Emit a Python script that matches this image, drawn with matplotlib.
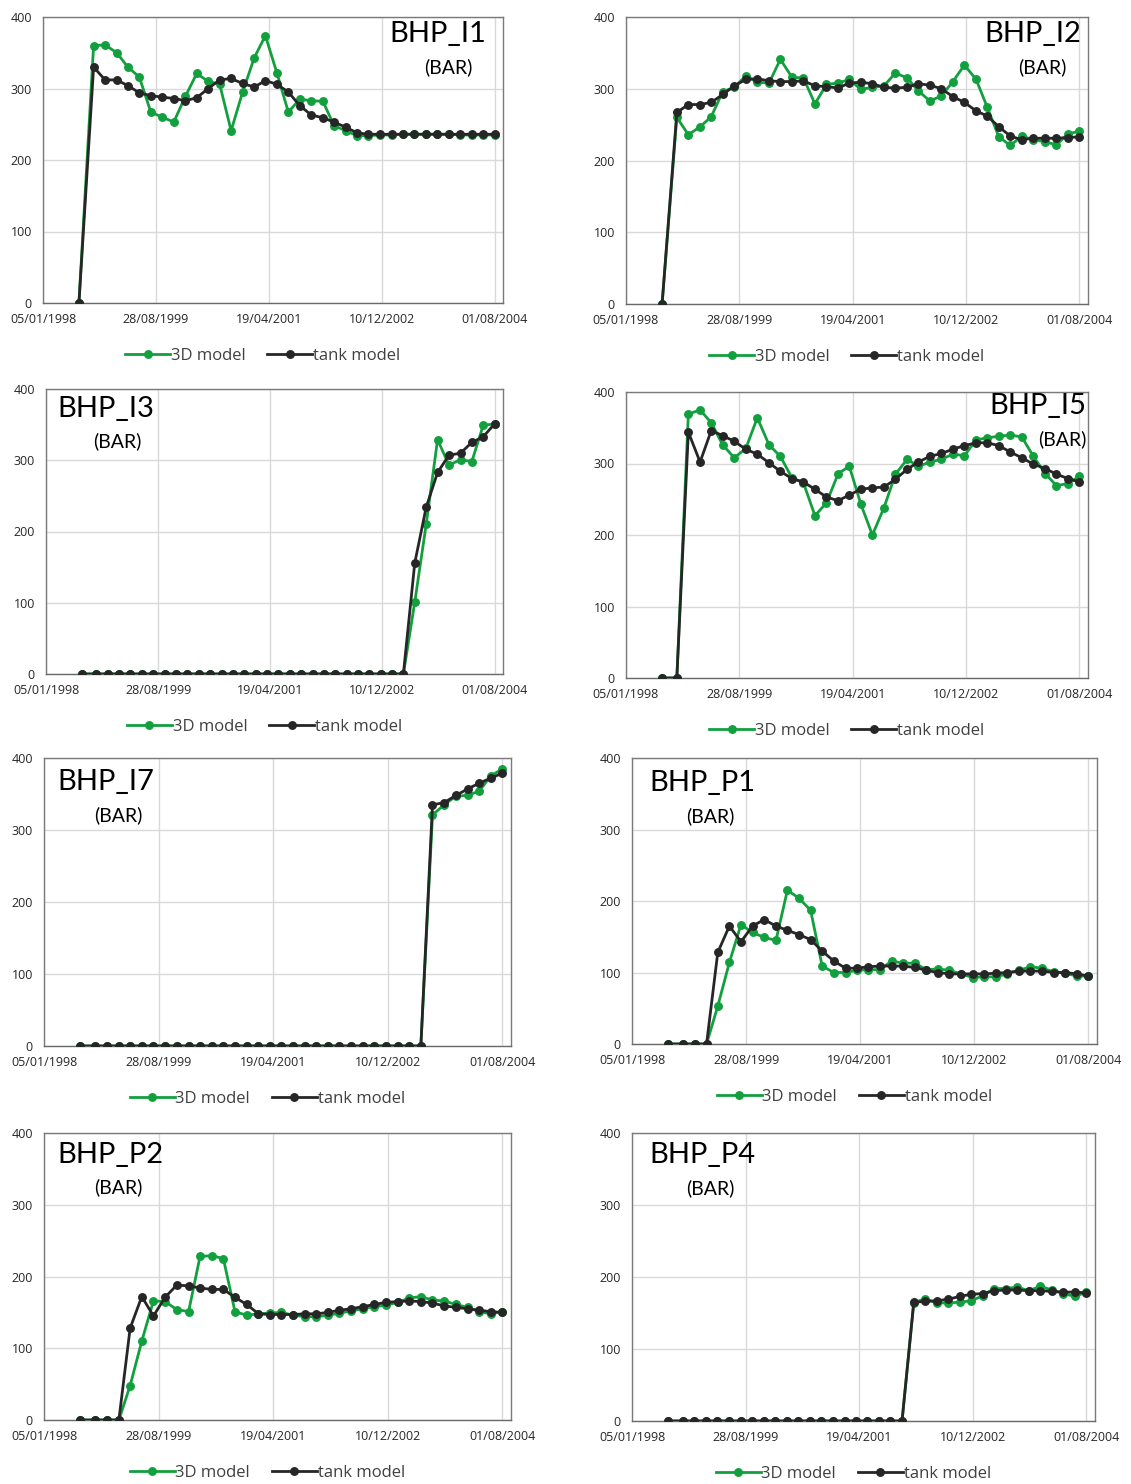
import matplotlib
matplotlib.use("Agg")
import matplotlib.pyplot as plt
import pandas as pd

plt.rcParams["font.family"] = ["Open Sans", "DejaVu Sans"]

# Sampling dates (first report, then every two months)
dates = ["1998-07-15",
         "1998-10-01", "1998-12-01",
         "1999-02-01", "1999-04-01", "1999-06-01", "1999-08-01", "1999-10-01", "1999-12-01",
         "2000-02-01", "2000-04-01", "2000-06-01", "2000-08-01", "2000-10-01", "2000-12-01",
         "2001-02-01", "2001-04-01", "2001-06-01", "2001-08-01", "2001-10-01", "2001-12-01",
         "2002-02-01", "2002-04-01", "2002-06-01", "2002-08-01", "2002-10-01", "2002-12-01",
         "2003-02-01", "2003-04-01", "2003-06-01", "2003-08-01", "2003-10-01", "2003-12-01",
         "2004-02-01", "2004-04-01", "2004-06-01", "2004-08-01"]

tick_dates = ["1998-01-05", "1999-08-28", "2001-04-19", "2002-12-10", "2004-08-01"]
tick_labels = ["05/01/1998", "28/08/1999", "19/04/2001", "10/12/2002", "01/08/2004"]
x_range = ["1998-01-05", "2004-09-15"]
y_ticks = [0, 100, 200, 300, 400]

series_names = ["3D model", "tank model"]
well_names = ["BHP_I1", "BHP_I2", "BHP_I3", "BHP_I5", "BHP_I7", "BHP_P1", "BHP_P2", "BHP_P4"]

# Bottom-hole pressure, bar
i1_3d = [0, 360, 361, 350, 330, 316, 267, 260, 253, 289, 321, 310, 306, 241, 295, 343, 374, 322,
         267, 285, 283, 282, 248, 241, 234, 234, 235, 235, 236, 236, 236, 236, 236, 235, 235, 235, 235]
i1_tank = [0, 330, 312, 312, 304, 294, 290, 288, 286, 283, 287, 300, 312, 314, 307, 302, 311, 306,
           295, 276, 263, 259, 253, 246, 238, 236, 236, 236, 236, 236, 236, 236, 236, 236, 236, 236, 236]

i2_3d = [0, 260, 236, 247, 261, 296, 302, 318, 309, 308, 341, 316, 315, 279, 306, 308, 313, 299,
         302, 304, 322, 315, 297, 283, 290, 310, 333, 313, 274, 233, 221, 234, 229, 226, 222, 237, 241]
i2_tank = [0, 267, 278, 278, 281, 292, 304, 313, 314, 311, 310, 310, 311, 304, 303, 301, 308, 309,
           307, 302, 301, 302, 307, 305, 300, 289, 281, 269, 262, 247, 234, 229, 231, 231, 231, 232, 233]

i3_3d = [0, 0, 0, 0, 0, 0, 0, 0, 0, 0, 0, 0, 0, 0, 0, 0, 0, 0, 0, 0, 0, 0, 0, 0, 0, 0, 0, 0, 0,
         101, 210, 329, 293, 301, 298, 349, 351]
i3_tank = [0, 0, 0, 0, 0, 0, 0, 0, 0, 0, 0, 0, 0, 0, 0, 0, 0, 0, 0, 0, 0, 0, 0, 0, 0, 0, 0, 0, 0,
           156, 234, 283, 307, 310, 325, 333, 351]

i5_3d = [0, 0, 369, 375, 357, 326, 308, 321, 364, 326, 310, 280, 273, 227, 245, 286, 296, 243,
         200, 238, 285, 306, 296, 302, 306, 313, 311, 333, 336, 338, 340, 337, 310, 286, 269, 272, 282]
i5_tank = [0, 0, 344, 302, 346, 339, 331, 320, 313, 301, 289, 279, 274, 264, 253, 248, 256, 264,
           266, 267, 278, 292, 302, 310, 314, 320, 325, 329, 329, 325, 316, 308, 299, 293, 285, 279, 274]

i7_3d = [0, 0, 0, 0, 0, 0, 0, 0, 0, 0, 0, 0, 0, 0, 0, 0, 0, 0, 0, 0, 0, 0, 0, 0, 0, 0, 0, 0, 0, 0,
         321, 335, 347, 348, 354, 375, 385]
i7_tank = [0, 0, 0, 0, 0, 0, 0, 0, 0, 0, 0, 0, 0, 0, 0, 0, 0, 0, 0, 0, 0, 0, 0, 0, 0, 0, 0, 0, 0, 0,
           335, 338, 348, 357, 365, 372, 379]

p1_3d = [0, 0, 0, 0, 53, 114, 167, 156, 149, 145, 215, 204, 187, 109, 100, 100, 103, 104,
         104, 116, 113, 113, 104, 105, 103, 98, 93, 94, 94, 98, 103, 108, 106, 101, 99, 95, 95]
p1_tank = [0, 0, 0, 0, 128, 165, 143, 165, 174, 165, 159, 153, 146, 130, 116, 106, 106, 108,
           109, 109, 109, 107, 103, 100, 98, 98, 98, 98, 99, 100, 102, 102, 102, 100, 100, 98, 95]

p2_3d = [0, 0, 0, 0, 48, 110, 166, 165, 154, 151, 228, 229, 225, 151, 146, 148, 149, 150,
         146, 144, 144, 146, 149, 152, 155, 158, 160, 164, 170, 172, 167, 166, 161, 157, 151, 148, 151]
p2_tank = [0, 0, 0, 0, 128, 172, 145, 171, 188, 187, 184, 182, 182, 171, 161, 148, 147, 147,
           147, 148, 148, 150, 153, 155, 158, 161, 164, 165, 166, 165, 163, 159, 157, 155, 153, 151, 150]

p4_3d = [0, 0, 0, 0, 0, 0, 0, 0, 0, 0, 0, 0, 0, 0, 0, 0, 0, 0, 0, 0, 0,
         164, 170, 164, 164, 165, 167, 174, 184, 184, 186, 181, 187, 182, 177, 173, 179]
p4_tank = [0, 0, 0, 0, 0, 0, 0, 0, 0, 0, 0, 0, 0, 0, 0, 0, 0, 0, 0, 0, 0,
           165, 166, 167, 169, 173, 176, 177, 181, 182, 182, 181, 181, 180, 179, 179, 178]

well_data = [(i1_3d, i1_tank), (i2_3d, i2_tank), (i3_3d, i3_tank), (i5_3d, i5_tank),
             (i7_3d, i7_tank), (p1_3d, p1_tank), (p2_3d, p2_tank), (p4_3d, p4_tank)]

# ---- layout (pixels) ----
W, H = 1131, 1484
# plot box: left, top, right, bottom
boxes = [(43, 17, 503, 303), (626, 17, 1088, 304),
         (46, 389, 503, 674), (626, 392, 1088, 678),
         (44, 758, 511, 1046), (632, 758, 1097, 1044),
         (44, 1133, 511, 1420), (632, 1133, 1095, 1421)]
# label anchors: (x, y, ha) for the well name, (x, y) for the unit
name_pos = [(486, 34, "right"), (1081, 34, "right"),
            (57, 409, "left"), (1086, 406, "right"),
            (57, 782, "left"), (649, 783, "left"),
            (57, 1155, "left"), (649, 1155, "left")]
unit_pos = [(448, 67), (1042, 67), (117, 441), (1062, 439),
            (118, 815), (710, 816), (118, 1187), (710, 1188)]

GREEN = "#12a03e"
DARK = "#262626"
GRID = "#d9d9d9"
TEXT = "#262626"

fig = plt.figure(figsize=(W / 100, H / 100), dpi=100)
fig.patch.set_facecolor("white")

x = pd.to_datetime(dates)
xt = pd.to_datetime(tick_dates)
xr = pd.to_datetime(x_range)

for i, name in enumerate(well_names):
    L, T, R, B = boxes[i]
    ax = fig.add_axes([L / W, 1 - B / H, (R - L) / W, (B - T) / H])
    s3d, stank = well_data[i]
    ax.plot(x, s3d, color=GREEN, lw=2.0, marker="o", ms=5.4, mec=GREEN, mfc=GREEN,
            label=series_names[0], zorder=3)
    ax.plot(x, stank, color=DARK, lw=2.0, marker="o", ms=5.4, mec=DARK, mfc=DARK,
            label=series_names[1], zorder=4)

    ax.set_xlim(xr[0], xr[1])
    ax.set_ylim(0, 400)
    ax.set_xticks(xt)
    ax.set_xticklabels(tick_labels)
    ax.set_yticks(y_ticks)
    ax.grid(True, color=GRID, lw=1.0, zorder=0)
    ax.set_axisbelow(True)
    ax.tick_params(length=0, labelsize=9, colors=TEXT, pad=7)
    ax.tick_params(axis="y", pad=8)
    for lab in ax.get_xticklabels() + ax.get_yticklabels():
        lab.set_fontweight("medium")
    for sp in ax.spines.values():
        sp.set_color("#7a7a7a")
        sp.set_linewidth(1.0)
    ax.spines["bottom"].set_color("#6a6a6a")

    leg = ax.legend(loc="center", bbox_to_anchor=(0.478, -0.185), ncol=2, frameon=False,
                    fontsize=12, handlelength=2.7, handletextpad=0.05, columnspacing=1.3,
                    numpoints=1, borderaxespad=0)
    for t in leg.get_texts():
        t.set_color("#404040")

    nx, ny, nha = name_pos[i]
    fig.text(nx / W, 1 - ny / H, name, ha=nha, va="center", fontsize=21, color="black",
             family=["Lato", "DejaVu Sans"])
    ux, uy = unit_pos[i]
    fig.text(ux / W, 1 - uy / H, "(BAR)", ha="center", va="center", fontsize=14, color="black",
             family=["Lato", "DejaVu Sans"])

fig.savefig("out.png", dpi=100, facecolor="white")
